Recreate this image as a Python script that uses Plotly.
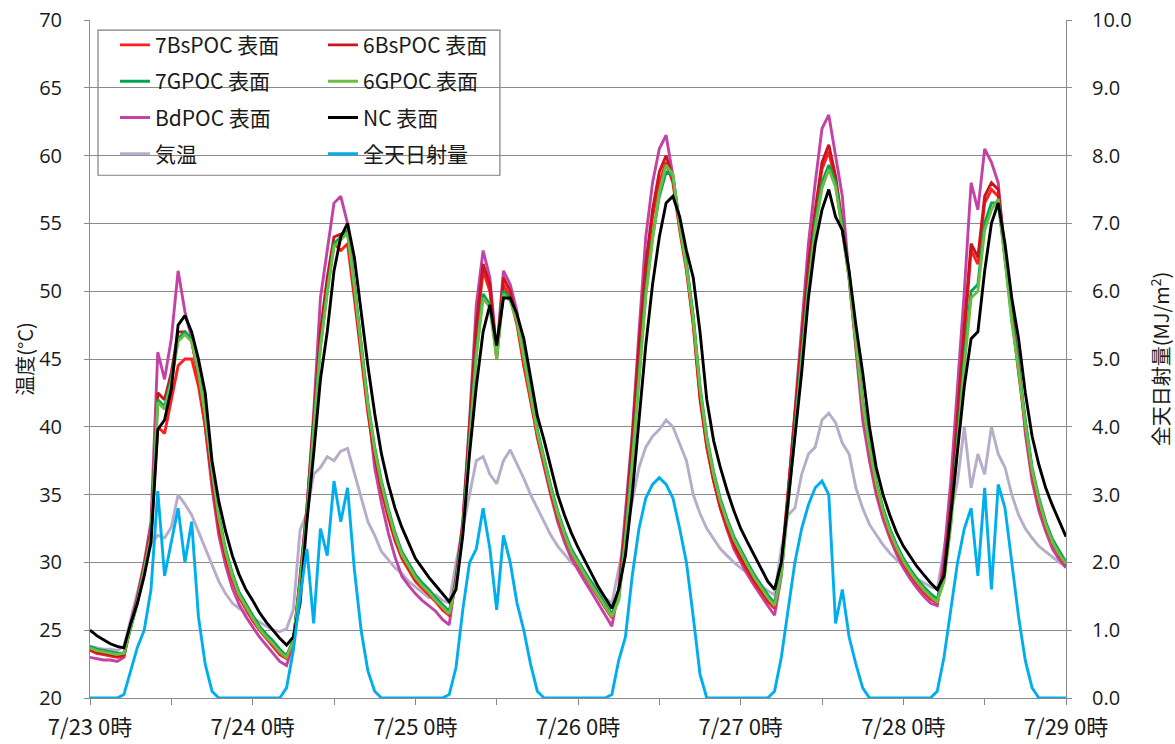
import pandas as pd
import plotly.graph_objects as go
from plotly.subplots import make_subplots

# hourly timestamps 7/23 0:00 .. 7/29 0:00
time = pd.date_range("2023-07-23 00:00", "2023-07-29 00:00", freq="h")

nc = [
    25.0, 24.6, 24.3, 24.0, 23.8, 23.7, 25.5, 27.0, 29.0, 31.5, 39.8, 40.5, 42.8, 47.5, 48.2, 47.0, 45.0, 42.5, 37.5, 34.5, 32.3, 30.5, 29.1, 28.0,
    27.2, 26.3, 25.6, 25.0, 24.4, 23.9, 24.5, 27.0, 33.0, 38.0, 43.5, 47.0, 51.5, 54.0, 55.0, 52.5, 48.5, 44.5, 41.0, 38.0, 35.8, 34.0, 32.6, 31.4,
    30.3, 29.6, 28.9, 28.3, 27.7, 27.1, 28.0, 32.0, 38.0, 43.0, 47.0, 49.0, 46.0, 49.5, 49.5, 48.3, 46.5, 43.5, 40.8, 39.0, 36.9, 35.0, 33.5, 32.2,
    31.1, 30.1, 29.1, 28.2, 27.4, 26.6, 28.0, 30.5, 35.0, 40.5, 46.0, 50.5, 54.0, 56.5, 57.0, 55.5, 53.0, 51.0, 47.0, 42.0, 39.0, 37.0, 35.3, 33.8,
    32.5, 31.5, 30.5, 29.5, 28.6, 28.0, 30.0, 34.5, 39.0, 44.0, 49.5, 53.5, 56.0, 57.5, 55.5, 54.5, 51.5, 47.5, 44.0, 40.0, 37.0, 35.0, 33.5, 32.2,
    31.2, 30.4, 29.7, 29.1, 28.5, 28.0, 29.0, 33.5, 38.5, 43.0, 46.5, 47.0, 51.5, 55.0, 56.5, 53.5, 49.5, 46.5, 42.5, 39.3, 37.2, 35.5, 34.2, 33.0, 31.9,
]

bd_poc = [
    23.0, 22.9, 22.8, 22.8, 22.7, 23.0, 25.5, 27.5, 30.0, 33.0, 45.5, 43.5, 46.5, 51.5, 48.5, 46.5, 43.5, 40.0, 35.5, 32.0, 29.8, 28.1, 26.9, 26.0,
    25.2, 24.5, 23.9, 23.3, 22.7, 22.4, 24.0, 29.0, 34.0, 41.0, 49.5, 53.0, 56.5, 57.0, 55.0, 50.5, 46.0, 41.5, 37.0, 34.4, 32.2, 30.4, 29.0, 28.3,
    27.7, 27.2, 26.8, 26.4, 25.8, 25.4, 29.0, 33.0, 40.5, 49.0, 53.0, 51.0, 45.5, 51.5, 50.5, 48.5, 44.5, 42.3, 39.2, 37.0, 34.9, 33.0, 31.5, 30.3,
    29.4, 28.6, 27.8, 27.0, 26.1, 25.3, 28.0, 33.5, 39.5, 47.0, 54.0, 58.0, 60.5, 61.5, 58.5, 55.0, 52.0, 48.0, 42.5, 38.5, 36.0, 34.0, 32.4, 31.0,
    30.0, 29.1, 28.3, 27.5, 26.8, 26.1, 29.0, 35.0, 41.0, 47.5, 53.5, 58.0, 62.0, 63.0, 60.0, 57.0, 51.0, 45.5, 40.5, 37.5, 35.0, 33.2, 31.8, 30.6,
    29.6, 28.8, 28.1, 27.5, 27.0, 26.8, 30.5, 36.0, 43.0, 50.0, 58.0, 56.0, 60.5, 59.5, 58.0, 52.5, 48.5, 45.0, 39.5, 36.0, 33.8, 32.3, 31.0, 30.2, 29.6,
]

bs7_poc = [
    23.5, 23.3, 23.2, 23.1, 23.0, 23.1, 25.3, 27.2, 29.5, 32.0, 40.0, 39.5, 42.0, 44.5, 45.0, 45.0, 43.0, 40.0, 36.0, 32.5, 30.3, 28.7, 27.4, 26.5,
    25.7, 25.0, 24.4, 23.8, 23.2, 22.9, 24.0, 28.5, 33.5, 40.0, 46.5, 50.5, 53.5, 53.0, 53.5, 49.5, 45.0, 41.0, 37.8, 35.3, 33.3, 31.6, 30.3, 29.4,
    28.6, 28.1, 27.6, 27.1, 26.5, 26.1, 28.5, 32.5, 39.5, 47.0, 51.5, 50.0, 45.0, 50.5, 49.5, 47.5, 44.5, 42.0, 39.3, 37.2, 35.1, 33.3, 31.9, 30.7,
    29.8, 29.0, 28.2, 27.4, 26.6, 25.9, 27.5, 32.5, 38.5, 45.5, 51.5, 55.5, 58.0, 59.5, 58.0, 54.5, 51.5, 47.5, 42.0, 38.5, 36.0, 34.0, 32.5, 31.2,
    30.2, 29.3, 28.5, 27.8, 27.1, 26.6, 29.5, 35.0, 40.5, 46.0, 51.5, 55.5, 59.0, 60.3, 58.0, 54.5, 51.0, 46.0, 41.5, 38.3, 35.5, 33.6, 32.1, 30.9,
    29.9, 29.1, 28.4, 27.8, 27.3, 27.0, 29.3, 34.0, 40.5, 47.0, 53.0, 52.0, 56.5, 57.5, 57.0, 52.5, 48.0, 44.0, 40.0, 36.5, 34.3, 32.6, 31.4, 30.5, 29.8,
]

bs6_poc = [
    23.6, 23.4, 23.3, 23.2, 23.1, 23.2, 25.3, 27.3, 29.8, 32.3, 42.5, 42.0, 44.0, 47.0, 47.0, 46.3, 43.8, 40.5, 36.3, 32.8, 30.5, 29.0, 27.7, 26.8,
    26.0, 25.2, 24.6, 24.0, 23.4, 23.1, 24.2, 28.8, 34.0, 40.5, 47.0, 51.0, 54.0, 54.2, 54.3, 50.0, 45.5, 41.4, 38.0, 35.5, 33.5, 31.8, 30.5, 29.6,
    28.8, 28.3, 27.8, 27.3, 26.7, 26.3, 28.7, 32.8, 40.0, 47.5, 52.0, 50.5, 45.3, 51.0, 50.0, 48.0, 45.0, 42.3, 39.5, 37.4, 35.3, 33.5, 32.1, 30.9,
    30.0, 29.2, 28.4, 27.6, 26.8, 26.1, 27.7, 32.8, 39.0, 46.0, 52.0, 56.0, 58.8, 60.0, 58.3, 54.8, 51.8, 47.8, 42.3, 38.8, 36.2, 34.2, 32.7, 31.4,
    30.4, 29.5, 28.7, 28.0, 27.3, 26.8, 29.8, 35.3, 41.0, 46.5, 52.0, 56.0, 59.5, 60.8, 58.5, 55.0, 51.3, 46.3, 41.8, 38.6, 35.8, 33.9, 32.4, 31.2,
    30.1, 29.3, 28.6, 28.0, 27.5, 27.1, 29.5, 34.3, 41.0, 47.5, 53.5, 52.5, 57.0, 58.0, 57.5, 52.8, 48.3, 44.3, 40.3, 36.8, 34.5, 32.8, 31.6, 30.7, 30.0,
]

g7_poc = [
    23.8, 23.6, 23.5, 23.4, 23.3, 23.3, 25.2, 27.0, 29.4, 31.8, 42.0, 41.5, 43.5, 46.5, 47.0, 46.5, 44.3, 41.0, 37.0, 33.5, 31.0, 29.2, 27.8, 26.9,
    26.1, 25.3, 24.7, 24.2, 23.6, 23.1, 24.3, 28.5, 33.5, 39.8, 46.0, 50.0, 53.5, 54.0, 54.5, 50.5, 46.0, 41.8, 38.5, 36.0, 34.0, 32.2, 30.8, 29.9,
    29.1, 28.5, 28.0, 27.4, 26.9, 26.4, 28.5, 32.3, 39.0, 45.5, 49.8, 49.0, 45.2, 50.0, 49.5, 48.0, 45.3, 42.5, 39.8, 37.7, 35.6, 33.8, 32.3, 31.0,
    30.1, 29.3, 28.5, 27.7, 27.0, 26.2, 27.3, 31.8, 37.5, 44.0, 50.0, 54.0, 57.0, 58.8, 58.5, 55.0, 52.0, 48.2, 43.0, 39.3, 36.7, 34.7, 33.2, 31.9,
    30.9, 30.0, 29.1, 28.3, 27.6, 27.0, 29.3, 34.5, 40.0, 45.5, 50.5, 55.0, 58.0, 59.3, 58.0, 54.8, 51.2, 46.5, 42.0, 38.8, 36.0, 34.0, 32.5, 31.3,
    30.3, 29.5, 28.8, 28.2, 27.7, 27.3, 28.8, 33.0, 39.0, 45.0, 50.0, 50.5, 55.0, 56.5, 56.5, 52.5, 48.0, 44.5, 40.5, 37.0, 34.8, 33.0, 31.7, 30.8, 30.0,
]

g6_poc = [
    23.7, 23.5, 23.4, 23.3, 23.2, 23.3, 25.2, 27.1, 29.5, 31.9, 41.8, 41.3, 43.3, 46.3, 46.8, 46.3, 44.0, 40.8, 36.8, 33.3, 30.8, 29.0, 27.6, 26.7,
    25.9, 25.1, 24.5, 24.0, 23.4, 23.0, 24.2, 28.4, 33.3, 39.6, 45.8, 49.8, 53.3, 53.8, 54.3, 50.3, 45.8, 41.6, 38.3, 35.8, 33.8, 32.0, 30.6, 29.7,
    28.9, 28.3, 27.8, 27.2, 26.7, 26.2, 28.4, 32.2, 38.8, 45.2, 49.5, 48.8, 45.0, 49.8, 49.3, 47.8, 45.1, 42.3, 39.6, 37.5, 35.4, 33.6, 32.1, 30.8,
    29.9, 29.1, 28.3, 27.5, 26.8, 26.0, 27.2, 31.6, 37.2, 43.7, 49.6, 53.8, 57.3, 59.3, 58.6, 54.8, 51.8, 48.0, 42.8, 39.1, 36.5, 34.5, 33.0, 31.7,
    30.7, 29.8, 28.9, 28.1, 27.4, 26.8, 29.1, 34.2, 39.7, 45.2, 50.2, 54.6, 57.6, 59.0, 57.7, 54.5, 50.9, 46.2, 41.7, 38.5, 35.8, 33.8, 32.3, 31.1,
    30.1, 29.3, 28.6, 28.0, 27.5, 27.1, 28.6, 32.7, 38.6, 44.5, 49.5, 50.0, 54.5, 56.0, 56.8, 52.3, 47.7, 44.2, 40.2, 36.8, 34.6, 32.8, 31.5, 30.6, 29.9,
]

air_temp = [
    23.8, 23.7, 23.6, 23.6, 23.5, 23.8, 25.8, 28.0, 29.8, 31.3, 32.0, 31.8, 32.6, 35.0, 34.3, 33.5, 32.3, 31.0, 29.9, 28.6, 27.7, 27.0, 26.6, 26.3,
    25.9, 25.6, 25.3, 25.0, 24.9, 25.1, 26.5, 32.4, 33.6, 36.5, 37.0, 37.8, 37.5, 38.2, 38.4, 36.6, 35.0, 33.0, 32.0, 30.8, 30.2, 29.6, 29.2, 28.6,
    28.2, 27.8, 27.4, 27.6, 27.2, 27.0, 30.0, 32.5, 35.0, 37.5, 37.8, 36.5, 35.8, 37.5, 38.3, 37.3, 36.2, 35.0, 34.0, 33.0, 32.0, 31.2, 30.6, 30.0,
    29.6, 29.0, 28.6, 28.0, 27.4, 27.0, 29.5, 32.0, 34.5, 37.0, 38.5, 39.3, 39.8, 40.5, 40.0, 38.8, 37.5, 35.0, 33.6, 32.5, 31.7, 31.0, 30.5, 30.0,
    29.6, 29.2, 28.7, 28.3, 27.9, 27.6, 31.0, 33.5, 34.0, 36.5, 38.0, 38.5, 40.5, 41.0, 40.3, 38.8, 38.0, 35.5, 34.0, 32.8, 32.0, 31.3, 30.7, 30.2,
    29.7, 29.2, 28.8, 28.5, 28.2, 28.0, 31.0, 33.5, 36.0, 40.0, 35.5, 38.0, 36.5, 40.0, 38.0, 37.0, 35.0, 33.5, 32.5, 31.8, 31.2, 30.8, 30.4, 30.0, 29.7,
]

solar_rad = [
    0, 0, 0, 0, 0, 0.05, 0.4, 0.75, 1.0, 1.6, 3.05, 1.8, 2.3, 2.8, 2.0, 2.6, 1.2, 0.5, 0.1, 0, 0, 0, 0, 0,
    0, 0, 0, 0, 0, 0.15, 0.7, 1.5, 2.2, 1.1, 2.5, 2.1, 3.2, 2.6, 3.1, 1.9, 1.0, 0.4, 0.1, 0, 0, 0, 0, 0,
    0, 0, 0, 0, 0, 0.05, 0.45, 1.3, 2.0, 2.2, 2.8, 2.2, 1.3, 2.4, 2.0, 1.4, 1.0, 0.5, 0.1, 0, 0, 0, 0, 0,
    0, 0, 0, 0, 0, 0.05, 0.55, 0.9, 1.8, 2.5, 2.95, 3.15, 3.25, 3.15, 2.95, 2.5, 2.0, 1.2, 0.35, 0, 0, 0, 0, 0,
    0, 0, 0, 0, 0, 0.1, 0.6, 1.3, 2.0, 2.5, 2.85, 3.1, 3.2, 3.0, 1.1, 1.6, 0.9, 0.5, 0.15, 0, 0, 0, 0, 0,
    0, 0, 0, 0, 0, 0.1, 0.6, 1.3, 2.0, 2.5, 2.8, 1.8, 3.1, 1.6, 3.15, 2.8, 2.0, 1.2, 0.55, 0.15, 0, 0, 0, 0, 0,
]

day_ticks = pd.date_range("2023-07-23", "2023-07-29", freq="D")
day_labels = ["7/23 0時", "7/24 0時", "7/25 0時", "7/26 0時", "7/27 0時", "7/28 0時", "7/29 0時"]

FONT_JP = "Noto Sans CJK JP"
FONT_NUM = "Open Sans"
TXT = "#1a1a1a"

fig = make_subplots(specs=[[{"secondary_y": True}]])

# (name, data, color, legend, rank, secondary)
series = [
    ("気温", air_temp, "#B7ADCB", "legend", 4, False),
    ("BdPOC 表面", bd_poc, "#C243A5", "legend", 3, False),
    ("7BsPOC 表面", bs7_poc, "#FF1F1F", "legend", 1, False),
    ("6BsPOC 表面", bs6_poc, "#C8161E", "legend2", 1, False),
    ("7GPOC 表面", g7_poc, "#00A651", "legend", 2, False),
    ("6GPOC 表面", g6_poc, "#6ABD45", "legend2", 2, False),
    ("NC 表面", nc, "#000000", "legend2", 3, False),
    ("全天日射量", solar_rad, "#00AEEF", "legend2", 4, True),
]

for name, data, color, leg, rank, sec in series:
    fig.add_trace(
        go.Scatter(
            x=time, y=data, name=name, mode="lines",
            line=dict(color=color, width=2.9),
            legend=leg, legendrank=rank, legendgroup=name,
        ),
        secondary_y=sec,
    )

grid_col = "#8A8A8A"

fig.update_xaxes(
    domain=[0, 1],
    range=[day_ticks[0], day_ticks[-1]],
    tickvals=list(day_ticks), ticktext=day_labels,
    tickfont=dict(family=FONT_JP, size=22, color=TXT),
    ticks="outside", ticklen=6, tickcolor=grid_col,
    minor=dict(dtick=12 * 3600 * 1000, ticks="outside", ticklen=6, tickcolor=grid_col, showgrid=False),
    showline=True, linecolor=grid_col, linewidth=1,
    showgrid=False, zeroline=False,
    ticklabelstandoff=4,
    ticklabeloverflow="allow",
    automargin=False,
)

fig.update_yaxes(
    range=[20, 70], dtick=5, tick0=20,
    tickfont=dict(family=FONT_NUM, size=20, color=TXT),
    ticks="outside", ticklen=5, tickcolor=grid_col,
    showline=True, linecolor=grid_col, linewidth=1,
    showgrid=True, gridcolor=grid_col, gridwidth=1,
    zeroline=False,
    title=dict(text="温度(°C)", font=dict(family=FONT_JP, size=20, color=TXT), standoff=0),
    ticklabelstandoff=18,
    ticklabeloverflow="allow",
    automargin=False,
    secondary_y=False,
)

fig.update_yaxes(
    range=[0, 10], dtick=1, tick0=0, tickformat=".1f",
    tickfont=dict(family=FONT_NUM, size=20, color=TXT),
    ticks="outside", ticklen=5, tickcolor=grid_col,
    showline=True, linecolor=grid_col, linewidth=1,
    showgrid=False, zeroline=False,
    title=dict(text="全天日射量(MJ/m<sup>2</sup>)", font=dict(family=FONT_JP, size=20, color=TXT), standoff=26),
    ticklabelstandoff=16,
    ticklabeloverflow="allow",
    automargin=False,
    secondary_y=True,
)

legend_common = dict(
    font=dict(family=FONT_JP, size=21, color=TXT),
    bgcolor="rgba(0,0,0,0)", borderwidth=0,
    traceorder="grouped", tracegroupgap=6,
    xanchor="left", yanchor="top",
    itemwidth=30,
)

fig.update_layout(
    width=1175, height=744,
    margin=dict(l=90, r=109, t=20, b=46),
    paper_bgcolor="white", plot_bgcolor="white",
    legend=dict(x=0.0256, y=0.993, **legend_common),
    legend2=dict(x=0.2387, y=0.993, **legend_common),
    shapes=[
        dict(type="rect", xref="paper", yref="paper",
             x0=0.0082, x1=0.42, y0=0.771, y1=0.985,
             line=dict(color="#7F7F7F", width=1.2), fillcolor="white", layer="below"),
    ],
)

# remove the browser's default page margin so the figure fills the window exactly
fig.write_html(
    "out.html",
    config={"displayModeBar": False},
    post_script="document.body.style.margin='0px';",
)
